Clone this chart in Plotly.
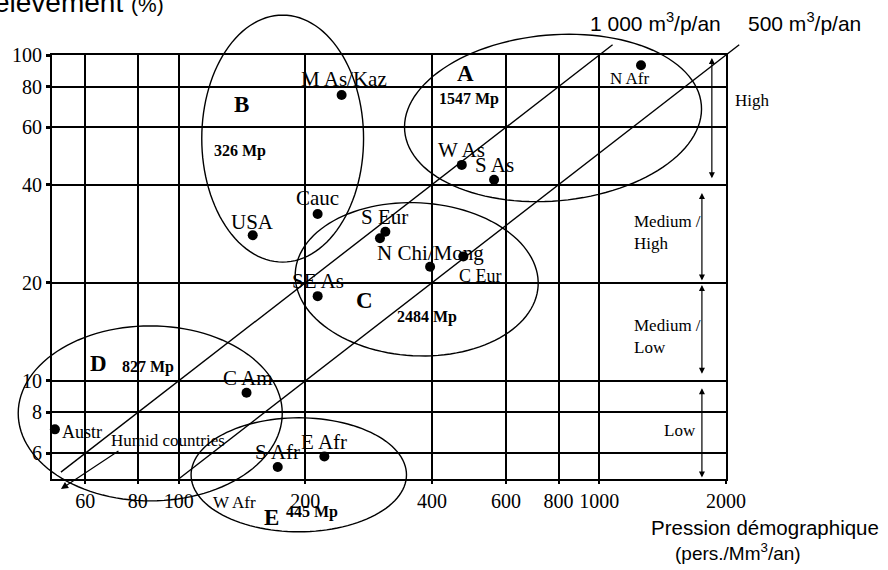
import numpy as np
import plotly.graph_objects as go

# ---------------- data ----------------
regions = ["N Afr", "M As/Kaz", "W As", "S As", "Cauc", "USA", "S Eur", "",
           "N Chi/Mong", "C Eur", "SE As", "C Am", "Austr", "S Afr", "E Afr"]
pressure = [1256, 244, 471, 562, 214, 150, 310, 301, 396, 475, 214, 145, 50.8, 172, 222]
withdrawal = [93.0, 75.4, 46.0, 41.4, 32.5, 28.0, 28.7, 27.4, 22.4, 24.1, 18.2, 9.2, 7.1, 5.44, 5.86]

groups = ["A", "B", "C", "D", "E"]
group_pop = ["1547 Mp", "326 Mp", "2484 Mp", "827 Mp", "445 Mp"]
group_cx = [776, 176.7, 368, 85.6, 193]      # ellipse centre, pressure
group_cy = [64.1, 55.4, 20.5, 7.95, 5.15]    # ellipse centre, withdrawal

per_capita = [1000, 500]                      # m3/p/an
per_capita_labels = ["1 000 m<sup>3</sup>/p/an", "500 m<sup>3</sup>/p/an"]

classes = ["High", "Medium /<br>High", "Medium /<br>Low", "Low"]
class_lo = [41.4, 20.1, 10.4, 5.0]
class_hi = [97.9, 37.7, 19.7, 9.5]

x_ticks = [60, 80, 100, 200, 400, 600, 800, 1000, 2000]
y_ticks = [6, 8, 10, 20, 40, 60, 80, 100]

# ---------------- layout geometry ----------------
FW, FH = 888, 570
ML, MR, MT, MB = 47, 162, 55, 91
W, H = FW - ML - MR, FH - MT - MB
LX0, LX1 = np.log10(50), np.log10(2000)
LY0, LY1 = np.log10(5), 2.0

def xpx(v):
    return ML + (np.log10(v) - LX0) / (LX1 - LX0) * W

def ypx(v):
    return MT + (LY1 - np.log10(v)) / (LY1 - LY0) * H

def pap(xp, yp):
    return (xp - ML) / W, (MT + H - yp) / H

SERIF = "Liberation Serif"
SANS = "Liberation Sans"

fig = go.Figure()

fig.add_trace(go.Scatter(
    x=pressure, y=withdrawal, mode="markers",
    marker=dict(size=10, color="black"),
    cliponaxis=False, hoverinfo="text", text=regions, showlegend=False))

shapes = []
annotations = []

# ratio lines
line_start = [52.5, 100]
line_end_y = 107.5
for pc, x0 in zip(per_capita, line_start):
    y0 = x0 * pc / 1e4
    x1 = line_end_y * 1e4 / pc
    a = pap(xpx(x0), ypx(y0))
    b = pap(xpx(x1), ypx(line_end_y))
    shapes.append(dict(type="line", xref="paper", yref="paper",
                       x0=a[0], y0=a[1], x1=b[0], y1=b[1],
                       line=dict(color="black", width=1.4)))

# ellipses (radii in pixels, rotation in degrees)
ell_style = [(150, 83, 5), (81.5, 123.5, 0), (122.5, 76.5, -3), (133, 87.5, 0), (108.5, 57, 0)]
t = np.linspace(0, 2 * np.pi, 121)
for cx, cy, (ra, rb, rot) in zip(group_cx, group_cy, ell_style):
    cxp, cyp = xpx(cx), ypx(cy)
    th = np.radians(rot)
    ex = cxp + ra * np.cos(t) * np.cos(th) - rb * np.sin(t) * np.sin(th)
    ey = cyp - (ra * np.cos(t) * np.sin(th) + rb * np.sin(t) * np.cos(th))
    pts = [pap(a, b) for a, b in zip(ex, ey)]
    path = "M " + " L ".join(f"{p[0]:.5f},{p[1]:.5f}" for p in pts) + " Z"
    shapes.append(dict(type="path", xref="paper", yref="paper", path=path,
                       line=dict(color="black", width=1.4)))

# point labels: (dx, dy px, font size, anchor)
lab_style = [(-11, 13, 17, "center"), (2, -16, 21, "center"), (0, -15, 21, "center"),
             (0, -15, 21, "center"), (0, -16, 21, "center"), (0, -13, 21, "center"),
             (-1, -15, 21, "center"), (0, 0, 21, "center"), (0, -14, 21, "center"),
             (-6, 20, 18, "left"), (0, -15, 21, "center"), (1, -15, 21, "center"),
             (5, 3, 18, "left"), (0, -15, 21, "center"), (0, -15, 21, "center")]
for name, xv, yv, (dx, dy, fs, anc) in zip(regions, pressure, withdrawal, lab_style):
    if not name:
        continue
    annotations.append(dict(x=np.log10(xv), y=np.log10(yv), xref="x", yref="y",
                            text=name, showarrow=False, xshift=dx, yshift=-dy,
                            xanchor=anc, yanchor="middle",
                            font=dict(family=SERIF, size=fs, color="black")))

# group letters and populations (pixel positions, anchors)
letter_pos = [(464, 73, "center"), (238, 104, "center"), (362, 300, "center"),
              (94, 363, "center"), (278, 517, "right")]
pop_pos = [(467, 99, "center"), (236, 151, "center"), (425, 317, "center"),
           (116, 367, "left"), (281, 512, "left")]
for g, p, lp, pp in zip(groups, group_pop, letter_pos, pop_pos):
    a = pap(lp[0], lp[1])
    annotations.append(dict(x=a[0], y=a[1], xref="paper", yref="paper", text=f"<b>{g}</b>",
                            showarrow=False, xanchor=lp[2], yanchor="middle",
                            font=dict(family=SERIF, size=23, color="black")))
    b = pap(pp[0], pp[1])
    annotations.append(dict(x=b[0], y=b[1], xref="paper", yref="paper", text=f"<b>{p}</b>",
                            showarrow=False, xanchor=pp[2], yanchor="middle",
                            font=dict(family=SERIF, size=16, color="black")))

# other texts
def txt(text, xp, yp, fam, size, anchor="center"):
    a = pap(xp, yp)
    annotations.append(dict(x=a[0], y=a[1], xref="paper", yref="paper", text=text,
                            showarrow=False, xanchor=anchor, yanchor="middle",
                            font=dict(family=fam, size=size, color="black")))

txt("W Afr", 231, 502, SERIF, 17)
txt("Humid countries", 164, 440, SERIF, 17)
txt(per_capita_labels[0], 655, 22, SANS, 21)
txt(per_capita_labels[1], 805, 22, SANS, 21)
txt("Pression démographique", 882, 527, SANS, 20.5, "right")
txt("(pers./Mm<sup>3</sup>/an)", 738, 552, SANS, 19)
txt("Prélèvement <span style='font-size:21px'>(%)</span>", 162, 3, SANS, 28, "right")

# humid countries arrow
h = pap(56, 489)
annotations.append(dict(x=h[0], y=h[1], xref="paper", yref="paper", text="",
                        showarrow=True, ax=59, ay=-39, arrowhead=2, arrowsize=1.2,
                        arrowwidth=1.2, arrowcolor="black"))

# class arrows and labels
class_x = [1851, 1753, 1753, 1753]
class_text_pos = [(733, 100, "left"), (631, 233, "left"), (631, 336, "left"), (662, 430, "left")]
for c, lo, hi, cxv, (tx, ty, anc) in zip(classes, class_lo, class_hi, class_x, class_text_pos):
    top = pap(xpx(cxv), ypx(hi))
    bot_px = ypx(lo) - ypx(hi)
    annotations.append(dict(x=top[0], y=top[1], xref="paper", yref="paper", text="",
                            showarrow=True, ax=0, ay=bot_px, arrowhead=2, arrowside="end+start",
                            arrowsize=1, arrowwidth=1.2, arrowcolor="black", standoff=0,
                            startstandoff=0))
    a = pap(tx, ty)
    annotations.append(dict(x=a[0], y=a[1], xref="paper", yref="paper", text=c,
                            showarrow=False, xanchor=anc, yanchor="middle", align="left",
                            font=dict(family=SERIF, size=17, color="black")))

axis_common = dict(type="log", showgrid=True, gridcolor="black", gridwidth=1.6,
                   showline=True, linecolor="black", linewidth=1.8, mirror=True,
                   ticks="outside", tickcolor="black", zeroline=False,
                   tickfont=dict(family=SERIF, size=20, color="black"))

fig.update_layout(
    width=FW, height=FH,
    margin=dict(l=ML, r=MR, t=MT, b=MB, pad=0),
    paper_bgcolor="white", plot_bgcolor="white",
    showlegend=False,
    xaxis=dict(range=[LX0, LX1], tickvals=x_ticks, ticktext=[str(v) for v in x_ticks],
               ticklen=3, tickwidth=2, **axis_common),
    yaxis=dict(range=[LY0, LY1], tickvals=y_ticks, ticktext=[str(v) for v in y_ticks],
               ticklen=4, tickwidth=3, **axis_common),
    shapes=shapes,
    annotations=annotations,
)

fig.write_html("out.html", config={"displayModeBar": False},
               post_script="document.body.style.margin='0px';")
